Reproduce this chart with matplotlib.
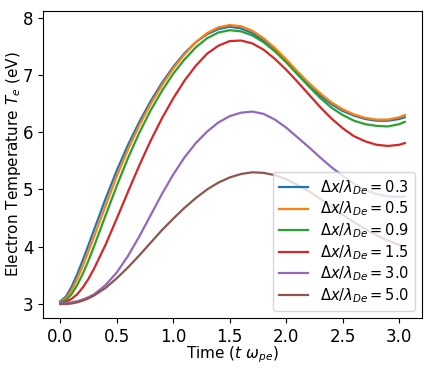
import numpy as np
import matplotlib
matplotlib.use("Agg")
import matplotlib.pyplot as plt

# time axis (t * omega_pe)
t = [0.0, 0.05, 0.1, 0.15, 0.2, 0.25, 0.3, 0.4, 0.5, 0.6, 0.7, 0.8, 0.9, 1.0,
     1.1, 1.2, 1.3, 1.4, 1.5, 1.6, 1.7, 1.8, 1.9, 2.0,
     2.1, 2.2, 2.3, 2.4, 2.5, 2.6, 2.7, 2.8, 2.9, 3.0, 3.05]

dx = [0.3, 0.5, 0.9, 1.5, 3.0, 5.0]

Te_03 = [3.05, 3.13, 3.30, 3.52, 3.77, 4.03, 4.30, 4.83, 5.33, 5.78, 6.18, 6.54, 6.86, 7.14,
         7.38, 7.57, 7.71, 7.80, 7.84, 7.81, 7.73, 7.60, 7.43, 7.23,
         7.02, 6.82, 6.64, 6.49, 6.37, 6.29, 6.23, 6.20, 6.20, 6.23, 6.26]
Te_05 = [3.04, 3.10, 3.24, 3.44, 3.67, 3.92, 4.18, 4.71, 5.23, 5.70, 6.12, 6.49, 6.82, 7.11,
         7.36, 7.57, 7.73, 7.83, 7.87, 7.85, 7.77, 7.64, 7.47, 7.27,
         7.06, 6.86, 6.68, 6.52, 6.40, 6.31, 6.25, 6.22, 6.22, 6.26, 6.30]
Te_09 = [3.03, 3.07, 3.17, 3.33, 3.53, 3.76, 4.01, 4.54, 5.06, 5.55, 5.99, 6.38, 6.72, 7.02,
         7.27, 7.48, 7.64, 7.74, 7.78, 7.76, 7.69, 7.57, 7.41, 7.22,
         7.01, 6.80, 6.60, 6.43, 6.30, 6.20, 6.14, 6.11, 6.10, 6.14, 6.18]
Te_15 = [3.02, 3.04, 3.09, 3.17, 3.29, 3.44, 3.62, 4.03, 4.49, 4.96, 5.42, 5.85, 6.24, 6.59,
         6.90, 7.16, 7.37, 7.51, 7.59, 7.60, 7.55, 7.44, 7.28, 7.09,
         6.88, 6.66, 6.44, 6.24, 6.07, 5.93, 5.84, 5.78, 5.76, 5.78, 5.81]
Te_30 = [3.02, 3.02, 3.03, 3.05, 3.08, 3.12, 3.17, 3.33, 3.55, 3.84, 4.18, 4.55, 4.92, 5.26,
         5.56, 5.81, 6.01, 6.17, 6.28, 6.34, 6.36, 6.32, 6.22, 6.08,
         5.91, 5.74, 5.56, 5.39, 5.24, 5.10, 4.99, 4.92, 4.88, 4.87, 4.88]
Te_50 = [3.00, 3.00, 3.01, 3.03, 3.06, 3.10, 3.15, 3.28, 3.45, 3.64, 3.85, 4.07, 4.29, 4.49,
         4.68, 4.85, 5.00, 5.12, 5.21, 5.27, 5.30, 5.29, 5.25, 5.18,
         5.08, 4.97, 4.84, 4.70, 4.56, 4.43, 4.31, 4.20, 4.11, 4.03, 4.00]

series = [Te_03, Te_05, Te_09, Te_15, Te_30, Te_50]

fig = plt.figure(figsize=(4.36, 3.7), dpi=100)
ax = fig.add_axes([0.0986, 0.1405, 0.8694, 0.8295])

for d, Te in zip(dx, series):
    ax.plot(t, Te, linewidth=1.6, label=r'$\Delta x/\lambda_{De} = %.1f$' % d)

ax.set_xlabel(r'Time ($t\ \omega_{pe}$)', fontsize=11, labelpad=-1)
ax.set_ylabel(r'Electron Temperature $T_e$ (eV)', fontsize=11, labelpad=0)
ax.set_xticks([0.0, 0.5, 1.0, 1.5, 2.0, 2.5, 3.0])
ax.set_yticks([3, 4, 5, 6, 7, 8])
ax.tick_params(labelsize=12)
ax.legend(loc='lower right', fontsize=10.5, labelspacing=0.2)

fig.savefig('out.png', dpi=100)
